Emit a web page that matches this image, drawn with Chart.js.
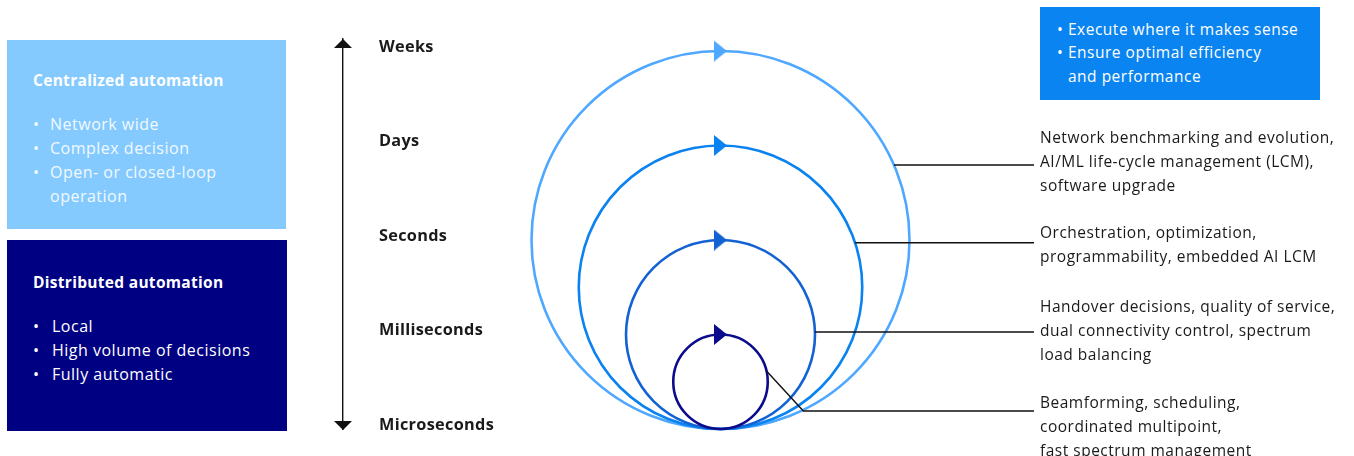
<!DOCTYPE html>
<html>
<head>
<meta charset="utf-8">
<script src="https://cdn.jsdelivr.net/npm/chart.js@4.4.1/dist/chart.umd.min.js"></script>
<style>
html,body{margin:0;padding:0;background:#fff;}
#wrap{position:relative;width:1354px;height:456px;overflow:hidden;font-family:"Open Sans",sans-serif;font-size:15.5px;letter-spacing:0.5px;color:#1a1a1a;}
#wrap canvas{position:absolute;left:0;top:0;}
.abs{position:absolute;z-index:2;}
.box{box-sizing:border-box;}
.line{position:absolute;left:0;white-space:nowrap;height:24px;line-height:24px;}
.lb .line{font-size:16px;}
.lb .line.title{font-size:15.5px;}
.title{font-weight:bold;letter-spacing:0.3px;}
.bul{display:inline-block;width:17px;letter-spacing:0;}
.note{position:absolute;z-index:2;left:1040px;line-height:24px;white-space:nowrap;}
</style>
</head>
<body>
<div id="wrap">
  <canvas id="c" width="1354" height="456"></canvas>

  <div class="abs box lb" style="left:7px;top:40px;width:279px;height:189px;background:#84CAFF;color:#F2F9FF;">
    <div class="line title" style="left:26px;top:28px;color:#fff;">Centralized automation</div>
    <div class="line" style="left:26px;top:72px;"><span class="bul">•</span>Network wide</div>
    <div class="line" style="left:26px;top:96px;"><span class="bul">•</span>Complex decision</div>
    <div class="line" style="left:26px;top:120px;"><span class="bul">•</span>Open- or closed-loop</div>
    <div class="line" style="left:43px;top:144px;">operation</div>
  </div>

  <div class="abs box lb" style="left:7px;top:240px;width:280px;height:191px;background:#000082;color:#fff;">
    <div class="line title" style="left:26px;top:30px;">Distributed automation</div>
    <div class="line" style="left:26px;top:74px;"><span class="bul" style="width:19px">•</span>Local</div>
    <div class="line" style="left:26px;top:98px;"><span class="bul" style="width:19px">•</span>High volume of decisions</div>
    <div class="line" style="left:26px;top:122px;"><span class="bul" style="width:19px">•</span>Fully automatic</div>
  </div>

  <div class="abs box" style="left:1040px;top:7px;width:280px;height:93px;background:#0A84F0;color:#fff;">
    <div class="line" style="left:17px;top:11px;line-height:23px;"><span class="bul" style="width:11px">•</span>Execute where it makes sense</div>
    <div class="line" style="left:17px;top:34px;line-height:23px;"><span class="bul" style="width:11px">•</span>Ensure optimal efficiency</div>
    <div class="line" style="left:28px;top:58px;line-height:23px;">and performance</div>
  </div>

  <div class="note" style="top:125px;">Network benchmarking and evolution,<br>AI/ML life-cycle management (LCM),<br>software upgrade</div>
  <div class="note" style="top:220px;">Orchestration, optimization,<br>programmability, embedded AI LCM</div>
  <div class="note" style="top:294px;">Handover decisions, quality of service,<br>dual connectivity control, spectrum<br>load balancing</div>
  <div class="note" style="top:390px;">Beamforming, scheduling,<br>coordinated multipoint,<br>fast spectrum management</div>
</div>

<script>
// ---- data ----
const timeLabels = ['Microseconds', 'Milliseconds', 'Seconds', 'Days', 'Weeks'];
const timeLevels = [0, 1, 2, 3, 4];
const loopNames = ['Weeks loop', 'Days loop', 'Seconds loop', 'Milliseconds loop'];
const loopTopLevels = [4, 3, 2, 1];
const loopCenterX = [3.775, 3.775, 3.775, 3.775];
const leaderStartLevels = [2.794, 1.971, 1.026, 0.614];
const leaderLevels = [2.794, 1.971, 1.026, 0.19];
const leaderEndX = 6.91;

// ---- styles ----
const loopColors = ['#4FA8FF', '#0A82F0', '#1262D4', '#0B0B8C'];
const FONT = '"Open Sans", sans-serif';

function makeArrow(color) {
  const c = document.createElement('canvas');
  c.width = 13; c.height = 21;
  const g = c.getContext('2d');
  g.fillStyle = color;
  g.beginPath();
  g.moveTo(0, 0); g.lineTo(13, 10.5); g.lineTo(0, 21); g.closePath();
  g.fill();
  return c;
}
const arrowImgs = loopColors.map(makeArrow);

function circleRadius(ctx) {
  const ys = ctx.chart.scales.y;
  if (!ctx.raw || !ys) return 3;
  const top = ctx.raw.y * 2;
  const r = (ys.getPixelForValue(0) - ys.getPixelForValue(top)) / 2;
  return isFinite(r) ? r : 3;
}

const spacing = {
  id: 'spacing',
  beforeDraw(chart) { chart.ctx.letterSpacing = '0.3px'; }
};

const axisArrows = {
  id: 'axisArrows',
  afterDraw(chart) {
    const {ctx, chartArea} = chart;
    const x = chart.scales.y.right;
    ctx.save();
    ctx.fillStyle = '#111';
    ctx.beginPath();
    ctx.moveTo(x, chartArea.top);
    ctx.lineTo(x + 9, chartArea.top + 9);
    ctx.lineTo(x - 9, chartArea.top + 9);
    ctx.closePath(); ctx.fill();
    ctx.beginPath();
    ctx.moveTo(x, chartArea.bottom + 1);
    ctx.lineTo(x + 9, chartArea.bottom - 8);
    ctx.lineTo(x - 9, chartArea.bottom - 8);
    ctx.closePath(); ctx.fill();
    ctx.restore();
  }
};

const leaders = {
  id: 'leaders',
  afterDatasetsDraw(chart) {
    const {ctx} = chart;
    const xs = chart.scales.x, ys = chart.scales.y;
    const meta = chart.getDatasetMeta(0);
    const endX = xs.getPixelForValue(leaderEndX);
    ctx.save();
    ctx.strokeStyle = '#111';
    ctx.lineWidth = 1.4;
    leaderLevels.forEach((lv, i) => {
      const el = meta.data[i];
      const r = el.options.radius;
      const sy = ys.getPixelForValue(leaderStartLevels[i]);
      const sx = el.x + Math.sqrt(Math.max(0, r * r - (sy - el.y) * (sy - el.y)));
      const ly = ys.getPixelForValue(lv);
      ctx.beginPath();
      ctx.moveTo(sx, sy);
      if (Math.abs(ly - sy) > 0.5) {
        const ex = sx + (ly - sy) * 0.92;
        ctx.lineTo(ex, ly);
      }
      ctx.lineTo(endX, ly);
      ctx.stroke();
    });
    ctx.restore();
  }
};

new Chart(document.getElementById('c'), {
  type: 'scatter',
  data: {
    datasets: [
      {
        label: 'Control loops',
        data: loopTopLevels.map((t, i) => ({x: loopCenterX[i], y: t / 2})),
        pointStyle: 'circle',
        pointRadius: circleRadius,
        pointHoverRadius: circleRadius,
        pointBorderColor: loopColors,
        pointHoverBorderColor: loopColors,
        pointBackgroundColor: 'rgba(0,0,0,0)',
        pointBorderWidth: 2.6,
        pointHoverBorderWidth: 2.6,
        clip: false
      },
      {
        label: 'Loop direction',
        data: loopTopLevels.map((t, i) => ({x: loopCenterX[i], y: t})),
        pointStyle: arrowImgs,
        pointRadius: 8,
        clip: false
      }
    ]
  },
  options: {
    responsive: false,
    animation: false,
    events: [],
    layout: {autoPadding: false, padding: {left: 343, right: 11, top: 39, bottom: 27}},
    plugins: {legend: {display: false}, tooltip: {enabled: false}},
    scales: {
      x: {type: 'linear', min: 0, max: 10, display: false},
      y: {
        type: 'linear', min: 0, max: 4.127, position: 'left',
        afterBuildTicks: s => { s.ticks = timeLevels.map(v => ({value: v})); },
        afterFit: s => { s.width = 0; s.paddingTop = 0; s.paddingBottom = 0; s.paddingLeft = 0; s.paddingRight = 0; },
        grid: {display: false, drawTicks: false},
        border: {display: true, color: '#111', width: 1.4},
        ticks: {
          mirror: true, padding: 36, labelOffset: -4,
          callback: (v, i) => timeLabels[i],
          color: '#1a1a1a',
          font: {family: FONT, size: 16.3, weight: 'bold'}
        }
      }
    }
  },
  plugins: [spacing, axisArrows, leaders]
});
</script>
</body>
</html>
